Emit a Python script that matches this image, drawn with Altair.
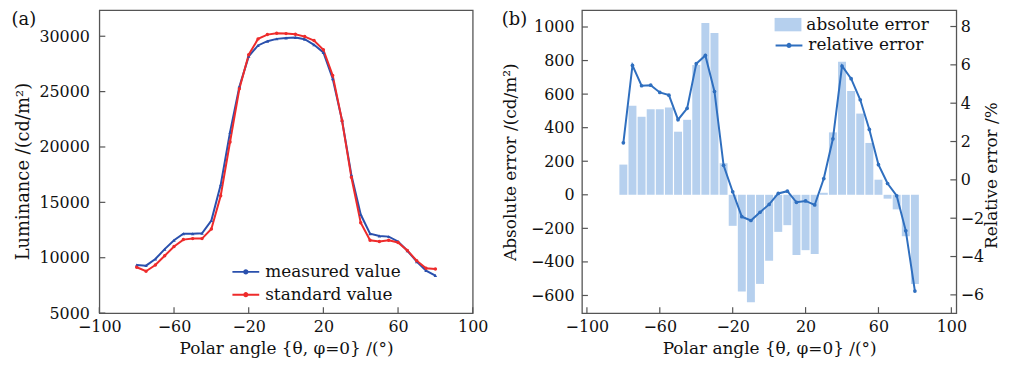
import altair as alt
import pandas as pd

# ---------------- data ----------------
angles = list(range(-80, 81, 5))
measured = [9345, 9286, 9881, 10774, 11577, 12173, 12173, 12203, 13363, 16578,
            21339, 25450, 28185, 29167, 29554, 29762, 29851, 29881, 29732, 29226,
            28542, 26161, 22400, 17470, 13899, 12173, 11964, 11905, 11470, 10630,
            9643, 8839, 8393]
standard = [9137, 8780, 9345, 10179, 11012, 11637, 11726, 11726, 12589, 15596,
            20447, 25260, 28334, 29762, 30149, 30268, 30238, 30179, 29970, 29613,
            28780, 26458, 22381, 17262, 13155, 11577, 11458, 11577, 11380, 10650,
            9732, 9048, 8988]
abs_err = [180, 530, 465, 510, 510, 520, 376, 447, 773, 1024,
           964, 188, -185, -576, -641, -531, -393, -221, -181, -359,
           -330, -353, 12, 372, 793, 619, 484, 309, 90, -23,
           -87, -247, -531]
rel_err = [1.93, 5.97, 4.91, 4.94, 4.56, 4.42, 3.14, 3.73, 6.06, 6.49,
           4.61, 0.76, -0.62, -1.92, -2.12, -1.69, -1.28, -0.71, -0.59, -1.17,
           -1.10, -1.31, 0.07, 2.14, 5.94, 5.28, 4.18, 2.63, 0.79, -0.19,
           -0.83, -2.66, -5.80]

series_names = ["measured value", "standard value"]
x_ticks = [-100, -60, -20, 20, 60, 100]
lum_ticks = [5000, 10000, 15000, 20000, 25000, 30000]
abs_ticks = [-600, -400, -200, 0, 200, 400, 600, 800, 1000]
rel_ticks = [-6, -4, -2, 0, 2, 4, 6, 8]

# ---------------- style ----------------
FONT = "DejaVu Serif"
BLUE = "#2a50ad"
RED = "#ee2b2b"
BAR = "#b6d0ee"
LINE2 = "#2f6fbf"
FRAME = "#555555"
W1, W2, H = 376, 377, 305
TICK = 6
OFF_B = 479  # offset of panel (b) plot relative to panel (a) plot (for legends)
LINE_DOT = "M-1,0H1M0.12,0A0.12,0.12,0,1,1,-0.12,0A0.12,0.12,0,1,1,0.12,0"
RECT = "M-1,-0.5H1V0.5H-1Z"

xscale = alt.Scale(domain=[-100, 100], nice=False, zero=False)
lum_scale = alt.Scale(domain=[5000, 32350], nice=False, zero=False)
abs_scale = alt.Scale(domain=[-705, 1100], nice=False, zero=False)
rel_scale = alt.Scale(domain=[-6.95, 8.85], nice=False, zero=False)


def x_axis():
    return alt.Axis(values=x_ticks, title="Polar angle {θ, φ=0} /(°)",
                    labelFlush=False, labelOverlap=False,
                    labelPadding=6, titlePadding=6)


def lum_axis():
    return alt.Axis(values=lum_ticks, format="d", title="Luminance /(cd/m²)",
                    labelPadding=10, titlePadding=6, titleFontSize=18, titleY=162)


def abs_axis():
    return alt.Axis(values=abs_ticks, format="d", title="Absolute error /(cd/m²)",
                    labelPadding=8, titlePadding=11)


def rel_axis():
    return alt.Axis(values=rel_ticks, format="d", orient="right",
                    title="Relative error /%", titleAngle=270, titleY=166,
                    labelPadding=4, titlePadding=17)


def X(field):
    return alt.X(field, scale=xscale, axis=x_axis())


def x_tick_layer():
    df = pd.DataFrame({"xt": x_ticks})
    return alt.Chart(df).mark_rule(color=FRAME, strokeWidth=1.2).encode(
        x=X("xt:Q"), y=alt.value(H), y2=alt.value(H - TICK))


# ---------------- panel (a) ----------------
lum_df = pd.DataFrame({
    "angle": angles * 2,
    "lum": measured + standard,
    "series": [series_names[0]] * len(angles) + [series_names[1]] * len(angles),
})
meas_df = pd.DataFrame({"angle": angles, "lum": measured})
std_df = pd.DataFrame({"angle": angles, "lum": standard})
col_scale = alt.Scale(domain=series_names, range=[BLUE, RED])

lines_a = alt.Chart(lum_df).mark_line(strokeWidth=2).encode(
    x=X("angle:Q"),
    y=alt.Y("lum:Q", scale=lum_scale, axis=lum_axis()),
    color=alt.Color("series:N", scale=col_scale,
                    legend=alt.Legend(title=None, orient="none", legendX=133, legendY=249,
                                      symbolType=LINE_DOT, symbolSize=729,
                                      symbolStrokeWidth=2, labelFont=FONT,
                                      labelFontSize=17, labelColor="#111",
                                      labelOffset=5, rowPadding=-3, padding=0)),
)
pts_m = alt.Chart(meas_df).mark_point(filled=True, size=12, opacity=1, color=BLUE,
                                      shape="triangle-up").encode(
    x=X("angle:Q"), y=alt.Y("lum:Q", scale=lum_scale, axis=lum_axis()))
pts_s = alt.Chart(std_df).mark_point(filled=True, size=12, opacity=1, color=RED,
                                     shape="circle").encode(
    x=X("angle:Q"), y=alt.Y("lum:Q", scale=lum_scale, axis=lum_axis()))
yt_a = alt.Chart(pd.DataFrame({"v": lum_ticks})).mark_rule(color=FRAME, strokeWidth=1.2).encode(
    y=alt.Y("v:Q", scale=lum_scale, axis=lum_axis()), x=alt.value(0), x2=alt.value(TICK))
lab_a = alt.Chart(pd.DataFrame({"t": ["(a)"]})).mark_text(
    font=FONT, fontSize=18, color="#111", align="center", baseline="middle").encode(
    text="t:N", x=alt.value(-76), y=alt.value(10))

panel_a = alt.layer(lines_a, pts_m, pts_s, yt_a, x_tick_layer(), lab_a).properties(
    width=W1, height=H)

# ---------------- panel (b) ----------------
err_df = pd.DataFrame({"angle": angles, "abs": abs_err, "rel": rel_err,
                       "b": "absolute error", "r": "relative error"})

bars = alt.Chart(err_df).mark_bar(size=8).encode(
    x=X("angle:Q"),
    y=alt.Y("abs:Q", scale=abs_scale, axis=abs_axis()),
    fill=alt.Fill("b:N", scale=alt.Scale(domain=["absolute error"], range=[BAR]),
                  legend=alt.Legend(title=None, orient="none", legendX=OFF_B + 201, legendY=1,
                                    symbolType=RECT, symbolSize=729, symbolStrokeWidth=0,
                                    labelFont=FONT, labelFontSize=17, labelColor="#111",
                                    labelOffset=5, padding=0)),
)
yt_b1 = alt.Chart(pd.DataFrame({"v": abs_ticks})).mark_rule(color=FRAME, strokeWidth=1.2).encode(
    y=alt.Y("v:Q", scale=abs_scale, axis=abs_axis()), x=alt.value(0), x2=alt.value(TICK))
lab_b = alt.Chart(pd.DataFrame({"t": ["(b)"]})).mark_text(
    font=FONT, fontSize=18, color="#111", align="center", baseline="middle").encode(
    text="t:N", x=alt.value(-68), y=alt.value(10))
left_grp = alt.layer(bars, yt_b1, x_tick_layer(), lab_b)

line_b = alt.Chart(err_df).mark_line(strokeWidth=2).encode(
    x=X("angle:Q"),
    y=alt.Y("rel:Q", scale=rel_scale, axis=rel_axis()),
    stroke=alt.Stroke("r:N", scale=alt.Scale(domain=["relative error"], range=[LINE2]),
                      legend=alt.Legend(title=None, orient="none", legendX=OFF_B + 201,
                                        legendY=21,
                                        symbolType=LINE_DOT, symbolSize=729,
                                        symbolStrokeWidth=2, labelFont=FONT,
                                        labelFontSize=17, labelColor="#111",
                                        labelOffset=5, padding=0)),
)
pts_b = alt.Chart(err_df).mark_point(filled=True, size=14, opacity=1, color=LINE2).encode(
    x=X("angle:Q"), y=alt.Y("rel:Q", scale=rel_scale, axis=rel_axis()))
yt_b2 = alt.Chart(pd.DataFrame({"v": rel_ticks})).mark_rule(color=FRAME, strokeWidth=1.2).encode(
    y=alt.Y("v:Q", scale=rel_scale, axis=rel_axis()), x=alt.value(W2 - TICK), x2=alt.value(W2))
right_grp = alt.layer(line_b, pts_b, yt_b2)

panel_b = alt.layer(left_grp, right_grp).resolve_scale(y="independent").properties(
    width=W2, height=H)

chart = alt.hconcat(panel_a, panel_b, spacing=12).properties(
    padding={"left": 2, "top": 0, "right": 0, "bottom": 0}
).configure_view(
    stroke=FRAME, strokeWidth=1.3
).configure_axis(
    labelFont=FONT, titleFont=FONT, labelFontSize=16, titleFontSize=17,
    labelColor="#111", titleColor="#111", titleFontWeight="normal",
    domain=False, grid=False, ticks=False
)

chart.save("out.html", embed_options={"renderer": "svg", "actions": False})
